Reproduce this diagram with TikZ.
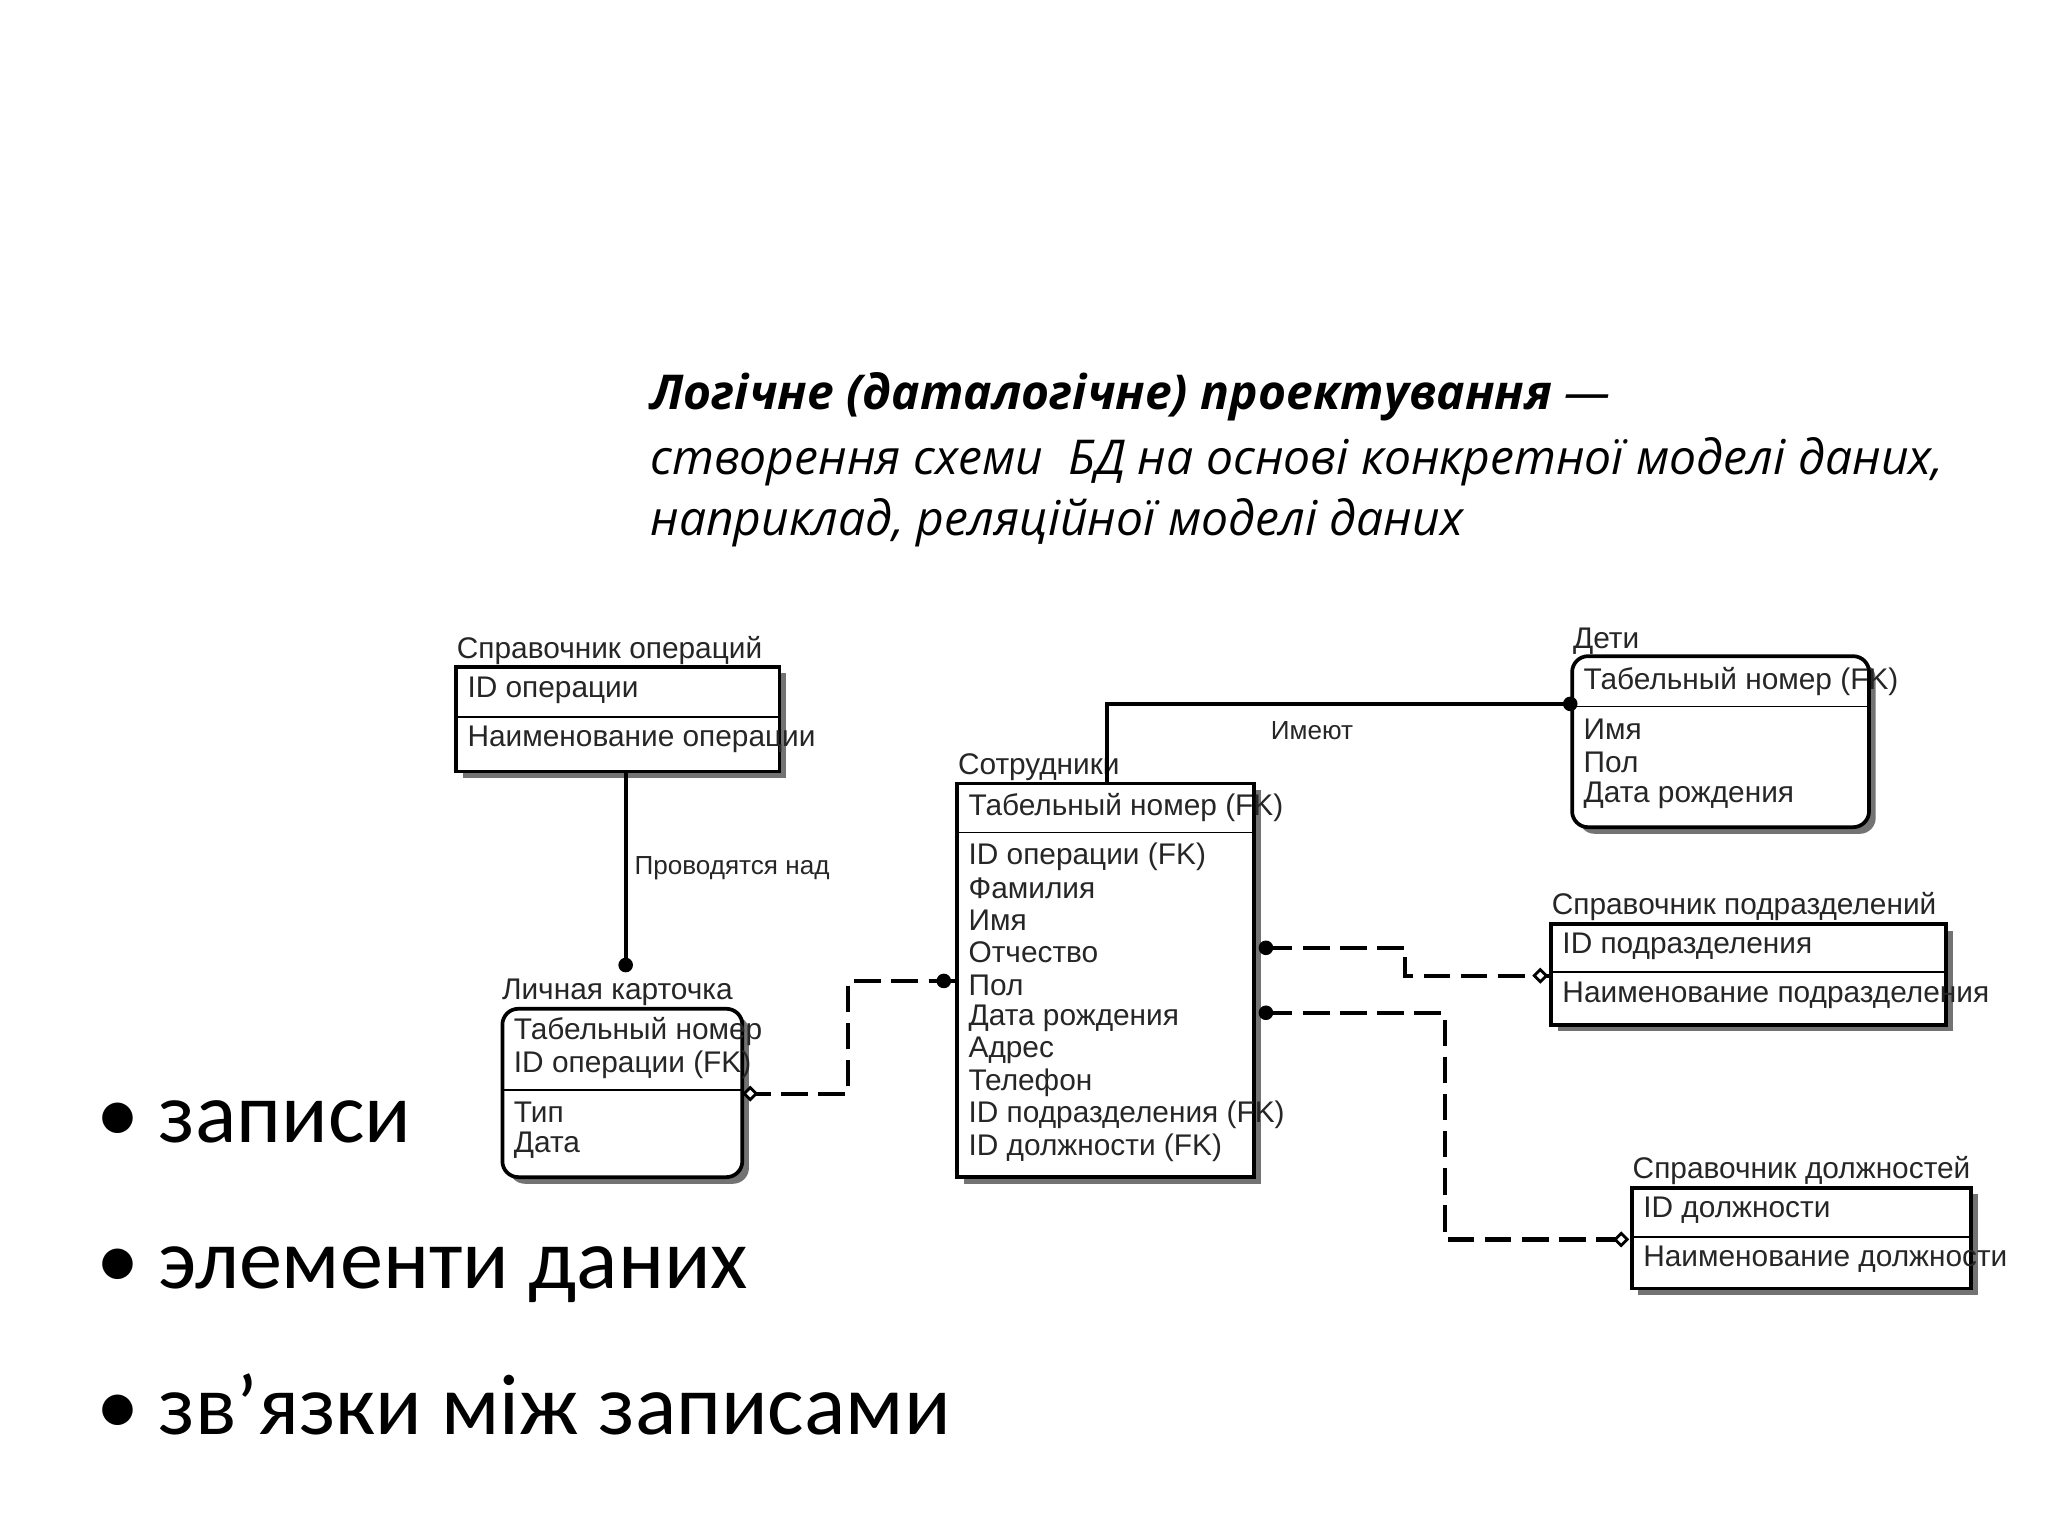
\documentclass[tikz,border=0pt]{standalone}
\usepackage{fontspec}
\setmainfont{Carlito}
\newfontfamily\titlefont{Open Sans}
\newfontfamily\dfont{Liberation Sans}
\usetikzlibrary{fit,shadows,shapes.geometric}
\begin{document}
\begin{tikzpicture}[x=0.01cm,y=-0.01cm,
  ebox/.style={draw,line width=0.8pt,fill=white,inner sep=0pt,drop shadow={shadow xshift=0.05cm,shadow yshift=-0.05cm,fill=black!55,opacity=1}},
  rbox/.style={ebox,rounded corners=0.12cm},
  dt/.style={anchor=west,inner sep=0pt,font=\dfont\fontsize{6.4}{7}\selectfont,text=black!85},
  rel/.style={line width=0.9pt},
  drel/.style={line width=0.9pt,dash pattern=on 0.2cm off 0.08cm},
  dotm/.style={circle,fill=black,inner sep=0pt,minimum size=0.11cm},
  diam/.style={draw,fill=white,inner sep=0pt,minimum size=0.1cm,shape=diamond,line width=0.6pt},
  blt/.style={anchor=base west,inner sep=0pt,font=\fontsize{18.5}{20}\selectfont},
  ttl/.style={anchor=base west,inner sep=0pt,font=\titlefont\itshape\fontsize{10.3}{12}\selectfont}]
\useasboundingbox (0,0) rectangle (1545,1159);
\fill[white] (0,0) rectangle (1545,1159);
% title
\node[ttl] (t1) at (490,309) {\bfseries Логічне (даталогічне) проектування \mdseries—};
\node[ttl] (t2) at (490,358) {створення схеми \ БД на основі конкретної моделі даних,};
\node[ttl] (t3) at (490,404) {наприклад, реляційної моделі даних};
% bullets
\node[blt] (b1) at (72,862) {• записи};
\node[blt] (b2) at (72,972) {• элементи даних};
\node[blt] (b3) at (72,1082) {• зв’язки між записами};
% boxes
\node[ebox,fit={(344,503) (588,582)}] (ops) {};
\draw (344,541) -- (588,541);
\node[dt,anchor=base west] at (344,497) {Справочник операций};
\node[dt] at (352,521) {ID операции};
\node[dt] at (352,558) {Наименование операции};

\node[ebox,fit={(722,591) (946,888)}] (emp) {};
\draw (722,628) -- (946,628);
\node[dt,anchor=base west] at (722,584) {Сотрудники};
\node[dt] at (730,609) {Табельный номер (FK)};
\node[dt] at (730,646) {ID операции (FK)};
\node[dt] at (730,670) {Фамилия};
\node[dt] at (730,694) {Имя};
\node[dt] at (730,718) {Отчество};
\node[dt] at (730,743) {Пол};
\node[dt] at (730,768) {Дата рождения};
\node[dt] at (730,792) {Адрес};
\node[dt] at (730,817) {Телефон};
\node[dt] at (730,841) {ID подразделения (FK)};
\node[dt] at (730,866) {ID должности (FK)};

\node[rbox,fit={(379,761) (560,888)}] (card) {};
\draw (379,822) -- (560,822);
\node[dt,anchor=base west] at (378,754) {Личная карточка};
\node[dt] at (387,778) {Табельный номер};
\node[dt] at (387,803) {ID операции (FK)};
\node[dt] at (387,839) {Тип};
\node[dt] at (387,864) {Дата};

\node[rbox,fit={(1186,495) (1410,624)}] (kids) {};
\draw (1186,533) -- (1410,533);
\node[dt,anchor=base west] at (1186,489) {Дети};
\node[dt] at (1194,514) {Табельный номер (FK)};
\node[dt] at (1194,550) {Имя};
\node[dt] at (1194,575) {Пол};
\node[dt] at (1194,600) {Дата рождения};

\node[ebox,fit={(1170,697) (1468,773)}] (dep) {};
\draw (1170,733) -- (1468,733);
\node[dt,anchor=base west] at (1170,690) {Справочник подразделений};
\node[dt] at (1178,714) {ID подразделения};
\node[dt] at (1178,751) {Наименование подразделения};

\node[ebox,fit={(1231,896) (1487,972)}] (pos) {};
\draw (1231,933) -- (1487,933);
\node[dt,anchor=base west] at (1231,889) {Справочник должностей};
\node[dt] at (1239,913) {ID должности};
\node[dt] at (1239,950) {Наименование должности};

% relationships
\coordinate (c1) at (472,728);
\draw[rel] (ops.south -| c1) -- (c1);
\node[dotm] at (c1) {};
\node[dt,font=\dfont\fontsize{5.6}{6}\selectfont] at (478,655) {Проводятся над};

\coordinate (k1) at (835,531);
\draw[rel] (emp.north -| k1) -- (k1) -- (kids.west |- k1);
\node[dotm] at (kids.west |- k1) {};
\node[dt,font=\dfont\fontsize{5.6}{6}\selectfont] at (958,551) {Имеют};

\draw[drel] (card.east |- 0,825) -- (640,825) -- (640,740) -- (emp.west |- 0,740);
\node[dotm] at (712,740) {};
\node[diam] at (566,825) {};

\draw[drel] (955,715) -- (1060,715) -- (1060,736) -- (dep.west |- 0,736);
\node[dotm] at (955,715) {};
\node[diam] at (1162,736) {};

\draw[drel] (955,764) -- (1090,764) -- (1090,935) -- (pos.west |- 0,935);
\node[dotm] at (955,764) {};
\node[diam] at (1223,935) {};
\end{tikzpicture}
\end{document}
